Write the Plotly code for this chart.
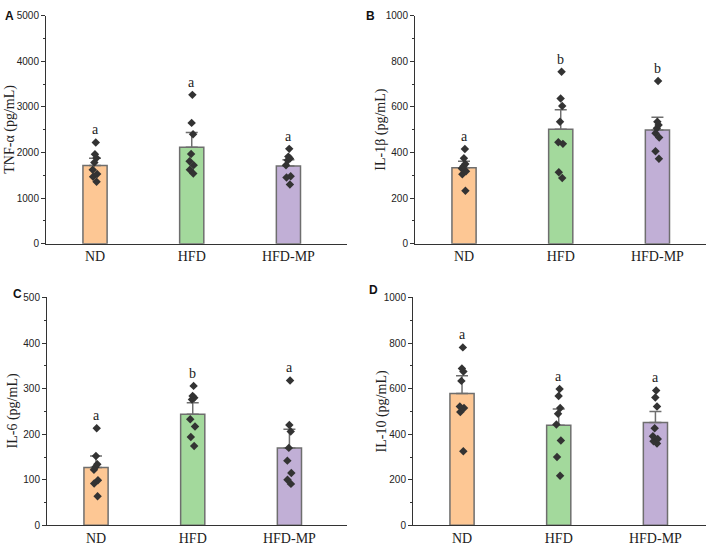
import plotly.graph_objects as go

groups = ["ND", "HFD", "HFD-MP"]
colors = ["#FDC794", "#A3D99C", "#C1AFD6"]

# Panel A: TNF-alpha
tnf_mean = [1717, 2117, 1703]
tnf_sem = [157, 322, 138]
tnf_pts = [
    [2220, 1960, 1880, 1780, 1620, 1530, 1470, 1360],
    [3265, 2650, 2403, 1968, 1810, 1723, 1620, 1538],
    [2080, 1910, 1870, 1830, 1720, 1480, 1450, 1300],
]
tnf_letters = ["a", "a", "a"]

# Panel B: IL-1beta
il1_mean = [333, 502, 499]
il1_sem = [29, 86, 56]
il1_pts = [
    [415, 375, 350, 340, 330, 318, 305, 232],
    [754, 637, 604, 535, 445, 438, 313, 288],
    [714, 535, 521, 506, 485, 466, 406, 373],
]
il1_letters = ["a", "b", "b"]

# Panel C: IL-6
il6_mean = [127, 244, 170]
il6_sem = [25, 25, 41]
il6_pts = [
    [213, 152, 134, 128, 122, 99, 92, 64],
    [306, 284, 280, 276, 233, 217, 194, 174],
    [318, 220, 206, 170, 142, 115, 100, 91],
]
il6_letters = ["a", "b", "a"]

# Panel D: IL-10
il10_mean = [579, 439, 451]
il10_sem = [77, 72, 49]
il10_pts = [
    [781, 688, 675, 634, 522, 515, 497, 325],
    [598, 568, 515, 490, 443, 372, 300, 218],
    [592, 561, 522, 426, 391, 379, 369, 359],
]
il10_letters = ["a", "a", "a"]

panels = [
    dict(label="A", title="TNF-α (pg/mL)", mean=tnf_mean, sem=tnf_sem, pts=tnf_pts,
         letters=tnf_letters, ymax=5000, dtick=1000),
    dict(label="B", title="IL-1β (pg/mL)", mean=il1_mean, sem=il1_sem, pts=il1_pts,
         letters=il1_letters, ymax=1000, dtick=200),
    dict(label="C", title="IL-6 (pg/mL)", mean=il6_mean, sem=il6_sem, pts=il6_pts,
         letters=il6_letters, ymax=500, dtick=100),
    dict(label="D", title="IL-10 (pg/mL)", mean=il10_mean, sem=il10_sem, pts=il10_pts,
         letters=il10_letters, ymax=1000, dtick=200),
]

W, H = 708, 548
# pixel layout of each plot area: x0, x1, ytop, ybottom
boxes = [(46, 347, 10, 243), (415, 706, 10, 243), (47, 347, 298, 531), (413, 706, 298, 531)]
ytitle_x = [10, 381, 13, 382]
label_pos = [(3, 10), (364, 10), (11, 294), (367, 290)]

SERIF = "Liberation Serif"
SANS = "Liberation Sans"
AXC = "#333333"
EDGE = "#6E6E6E"

fig = go.Figure()
annotations = []

for i, p in enumerate(panels):
    n = i + 1
    xa = "x" if n == 1 else f"x{n}"
    ya = "y" if n == 1 else f"y{n}"
    x0, x1, yt, yb = boxes[i]
    spacing = 96.7
    r0 = -0.507
    r1 = r0 + (x1 - x0) / spacing

    fig.add_trace(go.Bar(
        x=groups, y=p["mean"], xaxis=xa, yaxis=ya,
        marker=dict(color=colors, line=dict(color=EDGE, width=1.5)),
        width=0.25,
        error_y=dict(type="data", array=p["sem"], symmetric=False,
                     arrayminus=[0, 0, 0], color=EDGE, thickness=1.5, width=6),
        showlegend=False,
    ))
    for g, pts in zip(groups, p["pts"]):
        fig.add_trace(go.Box(
            x=[g] * len(pts), y=pts, xaxis=xa, yaxis=ya,
            boxpoints="all", jitter=0.25, pointpos=0, width=0.25,
            fillcolor="rgba(0,0,0,0)", line=dict(color="rgba(0,0,0,0)", width=0),
            marker=dict(symbol="diamond", size=6.5, color="#333333"),
            showlegend=False, hoverinfo="y",
        ))
    for g, pts, let in zip(groups, p["pts"], p["letters"]):
        annotations.append(dict(
            x=g, y=max(pts), xref=xa, yref=ya, text=let, showarrow=False,
            yanchor="bottom", yshift=3, font=dict(family=SERIF, size=14, color="#222"),
        ))

    layout_x = dict(
        domain=[x0 / W, x1 / W], range=[r0, r1], type="category",
        showline=True, linecolor=AXC, linewidth=1, ticks="", showgrid=False,
        tickfont=dict(family=SERIF, size=14, color="#222"), anchor=ya, zeroline=False,
    )
    layout_y = dict(
        domain=[1 - yb / H, 1 - yt / H], range=[0, p["ymax"]], dtick=p["dtick"],
        showline=True, linecolor=AXC, linewidth=1, ticks="outside", ticklen=4,
        tickcolor=AXC, tickwidth=1, showgrid=False, zeroline=False,
        minor=dict(ticks="outside", ticklen=2, dtick=p["dtick"] / 2, tickcolor=AXC),
        tickfont=dict(family=SANS, size=10, color="#222"), anchor=xa,
    )
    fig.update_layout(**{("xaxis" if n == 1 else f"xaxis{n}"): layout_x,
                         ("yaxis" if n == 1 else f"yaxis{n}"): layout_y})

    annotations.append(dict(
        x=ytitle_x[i] / W, y=1 - (yt + yb) / 2 / H, xref="paper", yref="paper",
        text=p["title"], textangle=-90, showarrow=False, xanchor="center", yanchor="middle",
        font=dict(family=SERIF, size=14, color="#222"),
    ))
    lx, ly = label_pos[i]
    annotations.append(dict(
        x=lx / W, y=1 - ly / H, xref="paper", yref="paper", text=f"<b>{p['label']}</b>",
        showarrow=False, xanchor="left", yanchor="middle",
        font=dict(family=SANS, size=12, color="#111"),
    ))

fig.update_layout(
    width=W, height=H, margin=dict(l=0, r=0, t=0, b=0),
    paper_bgcolor="white", plot_bgcolor="white",
    annotations=annotations, boxmode="overlay", barmode="overlay",
)

fig.write_html("out.html", config={"displayModeBar": False},
               post_script="document.body.style.margin='0';")
